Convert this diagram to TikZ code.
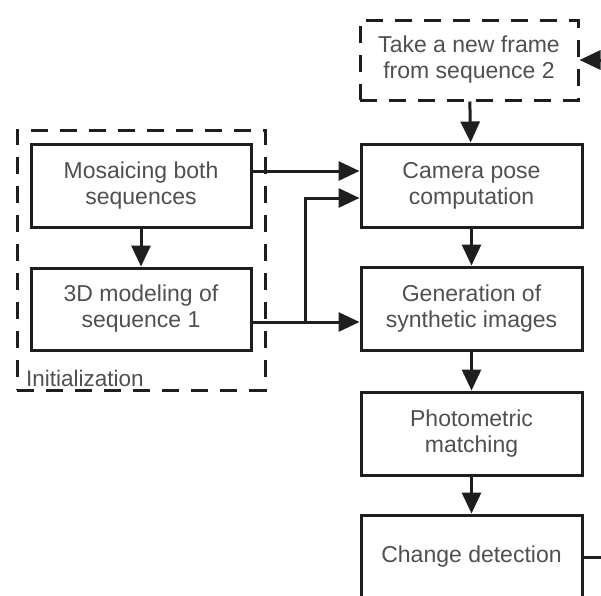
\documentclass[tikz,border=0pt]{standalone}
\usepackage{fontspec}
\setmainfont{Liberation Sans}
\usetikzlibrary{arrows.meta}
\definecolor{txt}{HTML}{505050}
\definecolor{ln}{HTML}{1E1E1E}
\begin{document}
\begin{tikzpicture}[x=1pt,y=-1pt,
  box/.style={draw=ln,line width=3pt,minimum width=221pt,minimum height=83pt,inner sep=0pt,
    align=center,text=txt,font=\fontsize{23}{26}\selectfont},
  dbox/.style={box,dash pattern=on 17pt off 12pt},
  arr/.style={draw=ln,line width=3pt,-{Triangle[length=21pt,width=19pt]}}]
\useasboundingbox (0,0) rectangle (601,595);
\clip (0,0) rectangle (601,595);
\fill[white] (0,0) rectangle (601,595);
% nodes
\node[dbox,minimum width=218pt,minimum height=80pt] (take) at (469,60) {Take a new frame\\from sequence 2};
\node[box] (cam) at (471.5,185.5) {Camera pose\\computation};
\node[box] (gen) at (471.5,308.5) {Generation of\\synthetic images};
\node[box] (pho) at (471.5,433.5) {Photometric\\matching};
\node[box] (chg) at (471.5,556.5) {Change detection};
\node[box,minimum width=220pt] (mos) at (141,185.5) {Mosaicing both\\sequences};
\node[box,minimum width=220pt,minimum height=82pt] (mod) at (141,309) {3D modeling of\\sequence 1};
\node[draw=ln,line width=3pt,dash pattern=on 17pt off 12pt,minimum width=248pt,minimum height=260pt,inner sep=0pt] (init) at (141,260) {};
\node[anchor=base west,inner sep=0pt,text=txt,font=\fontsize{22.5}{26}\selectfont] (initl) at (26,386) {Initialization};
% helper coordinates
\coordinate (y1) at (0,171);
\coordinate (y2) at (0,198);
\coordinate (y3) at (0,322);
\coordinate (split) at (305,322);
\coordinate (loopA) at (640,557);
\coordinate (loopB) at (640,60);
% connectors
\draw[arr] (take) -- (cam);
\draw[arr] (cam) -- (gen);
\draw[arr] (gen) -- (pho);
\draw[arr] (pho) -- (chg);
\draw[arr] (mos) -- (mod);
\draw[arr] (mos.east |- y1) -- (cam.west |- y1);
\draw[arr] (mod.east |- y3) -- (gen.west |- y3);
\draw[arr] (split) -- (split |- y2) -- (cam.west |- y2);
\draw[arr] (chg.east |- loopA) -- (loopA) -- (loopB) -- (take.east |- loopB);
\end{tikzpicture}
\end{document}
